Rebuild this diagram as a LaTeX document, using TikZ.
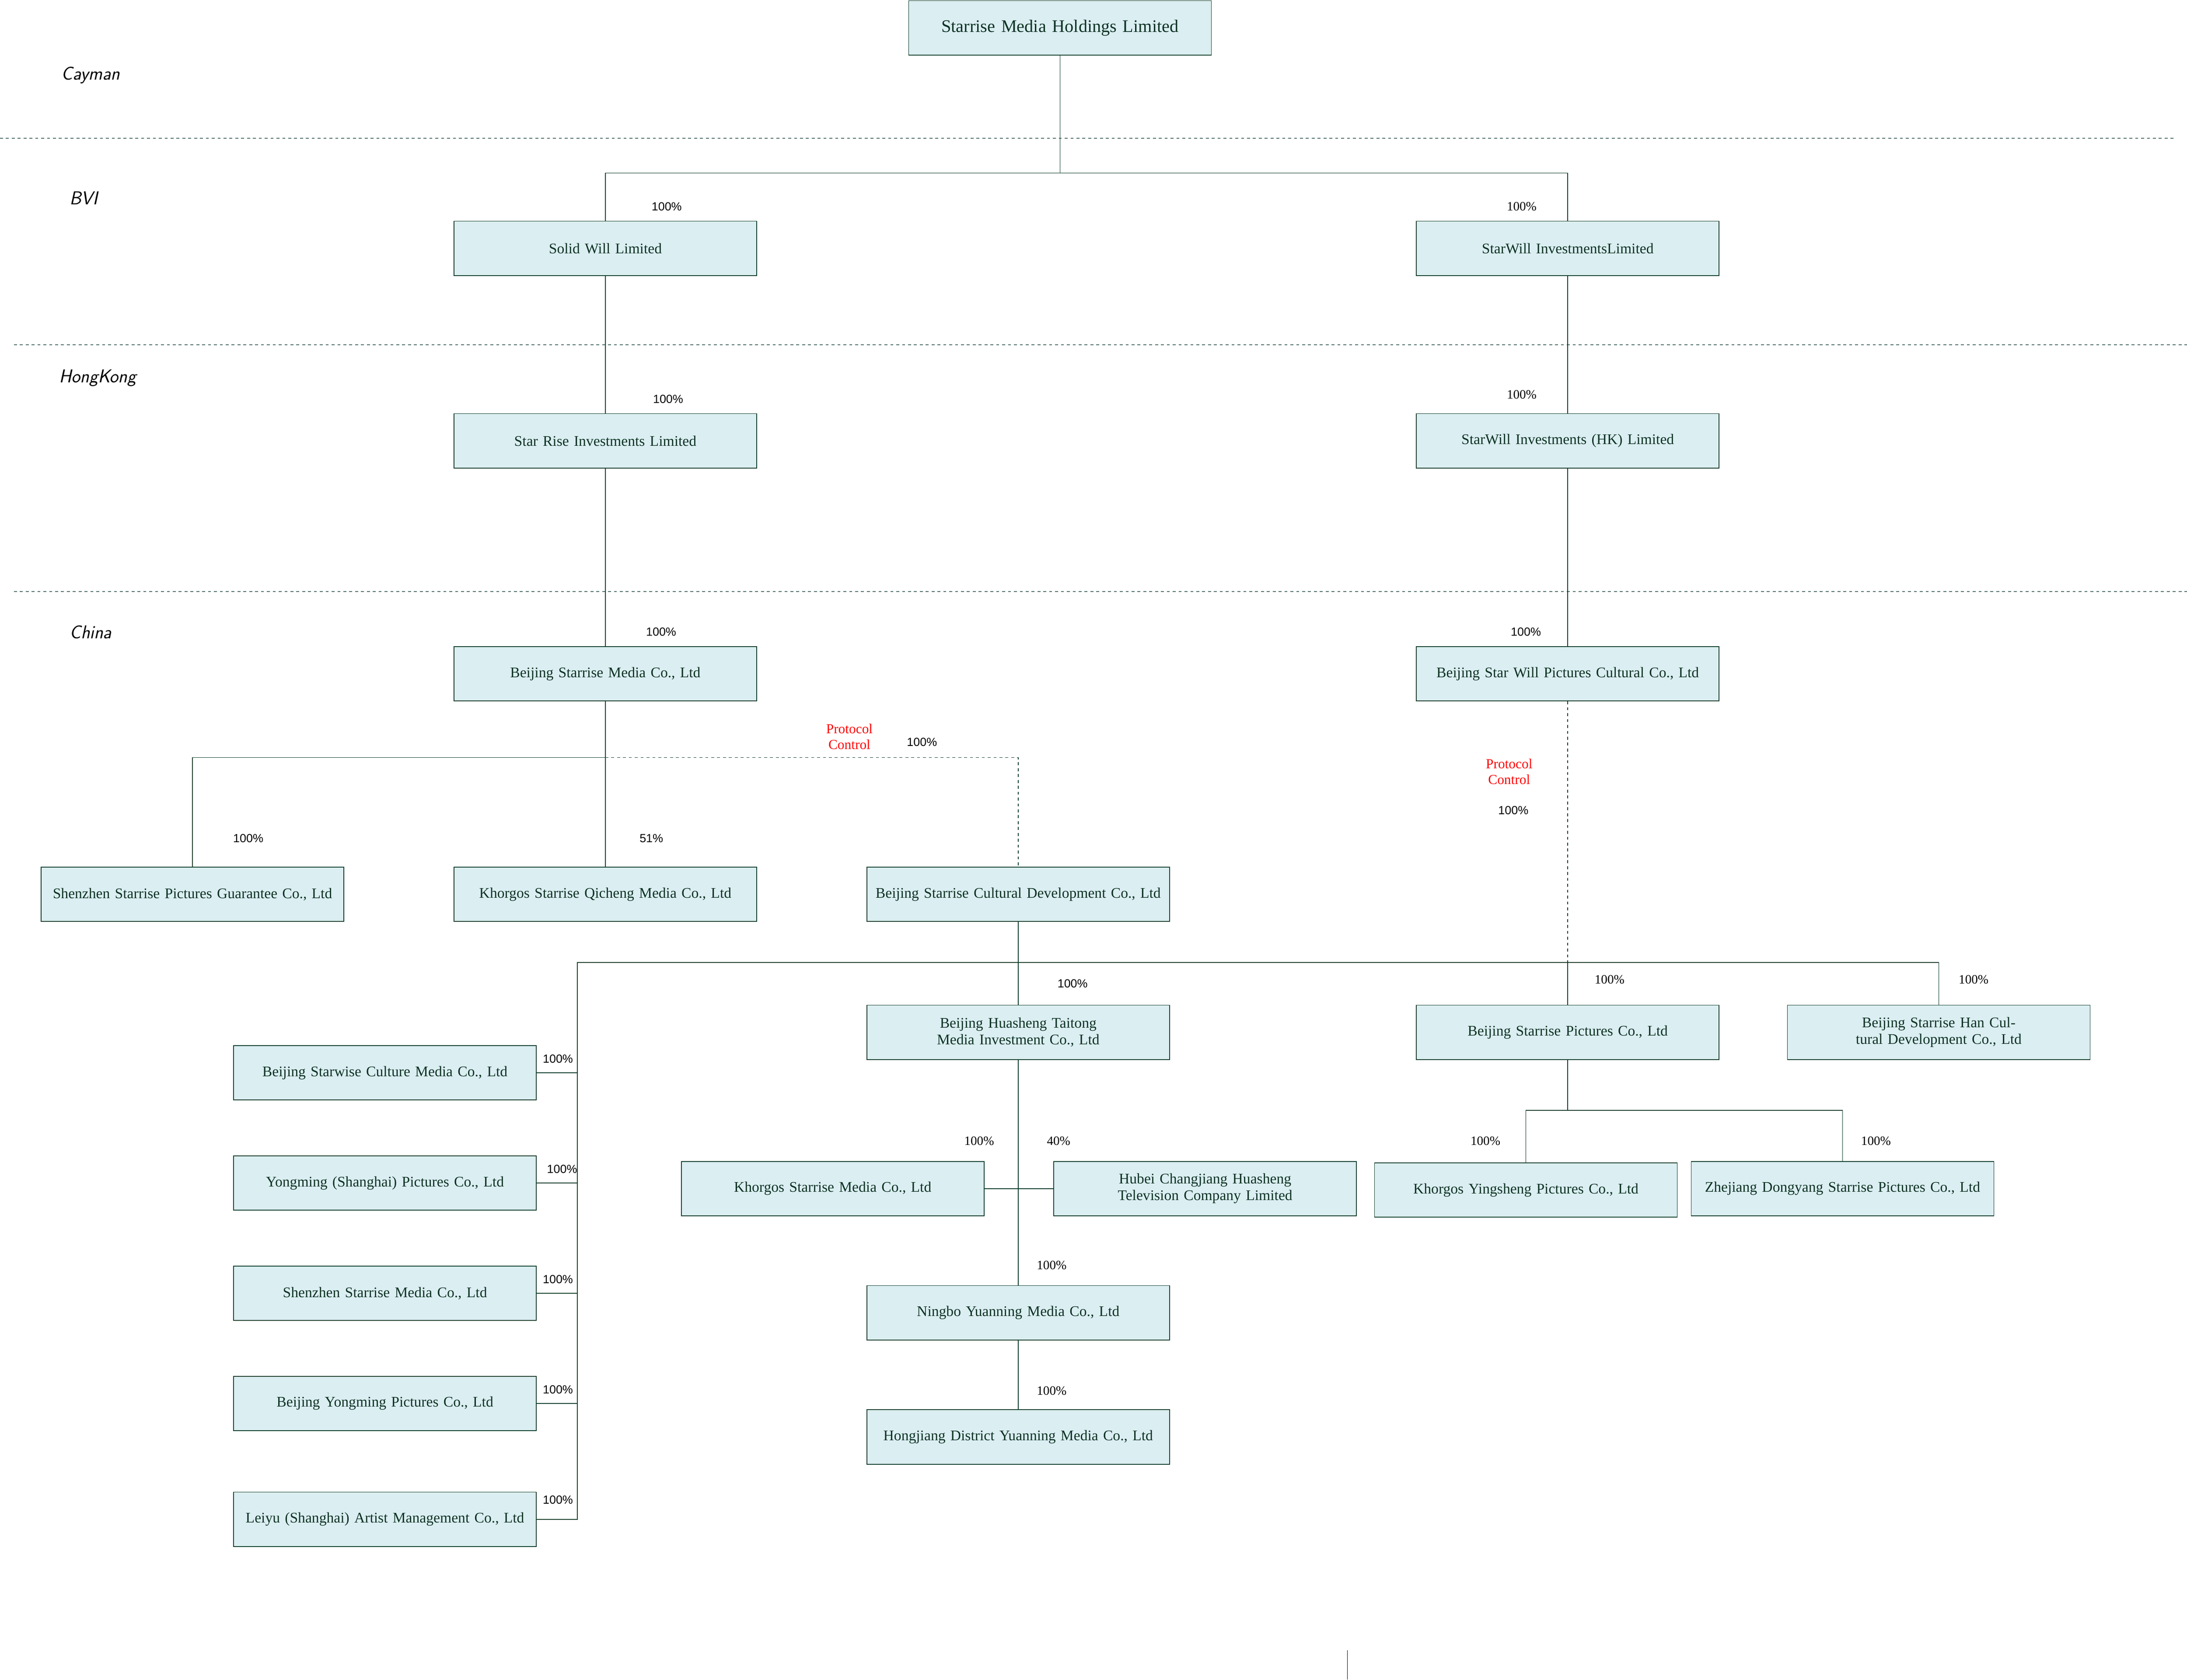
\documentclass[tikz,border=0pt]{standalone}
\usepackage{fontspec}
\setmainfont{Liberation Serif}
\newfontfamily\pctfont{Liberation Sans}
\usetikzlibrary{positioning}
\definecolor{boxfill}{HTML}{DBEEF2}
\definecolor{boxline}{HTML}{103F2C}
\definecolor{sepline}{HTML}{4F6F6A}
\begin{document}
\begin{tikzpicture}[x=0.05cm,y=-0.05cm,
  company/.style={draw=boxline, fill=boxfill, thick, minimum width=10.85cm, minimum height=1.95cm,
    text width=10.6cm, align=center, font=\fontsize{15}{17}\selectfont, text=boxline!80!black},
  link/.style={draw=boxline, thick},
  ctrl/.style={draw=boxline, thick, dashed},
  pct/.style={font=\fontsize{13}{15}\selectfont},
  pcts/.style={font=\pctfont\fontsize{12}{14}\selectfont},
  region/.style={font=\sffamily\itshape\fontsize{19}{21}\selectfont},
  proto/.style={text=red, align=center, font=\fontsize{14}{16}\selectfont},
  sep/.style={draw=sepline, dashed, thick}]
\useasboundingbox (0,0) rectangle (1568,1204);

% regions
\draw[sep] (0,99) -- (1560,99);
\draw[sep] (10,247) -- (1568,247);
\draw[sep] (10,424) -- (1568,424);
\node[region] at (65,54) {Cayman};
\node[region] at (60,142) {BVI};
\node[region] at (70,271) {HongKong};
\node[region] at (65,453) {China};

% companies
\node[company, font=\fontsize{18}{20}\selectfont] (holding) at (760,20) {Starrise Media Holdings Limited};
\node[company] (solid) at (434,178) {Solid Will Limited};
\node[company] (starwill) at (1124,178) {StarWill InvestmentsLimited};
\node[company] (starrise) at (434,316) {Star Rise Investments Limited};
\node[company] (starwillhk) at (1124,316) {StarWill Investments (HK) Limited};
\node[company] (bjmedia) at (434,483) {Beijing Starrise Media Co., Ltd};
\node[company] (bjstarwill) at (1124,483) {Beijing Star Will Pictures Cultural Co., Ltd};
\node[company] (szguar) at (138,641) {Shenzhen Starrise Pictures Guarantee Co., Ltd};
\node[company] (qicheng) at (434,641) {Khorgos Starrise Qicheng Media Co., Ltd};
\node[company] (culture) at (730,641) {Beijing Starrise Cultural Development Co., Ltd};
\node[company] (huasheng) at (730,740) {Beijing Huasheng Taitong Media Investment Co., Ltd};
\node[company] (pictures) at (1124,740) {Beijing Starrise Pictures Co., Ltd};
\node[company] (han) at (1390,740) {Beijing Starrise Han Cultural Development Co., Ltd};
\node[company] (starwise) at (276,769) {Beijing Starwise Culture Media Co., Ltd};
\node[company] (yongsh) at (276,848) {Yongming (Shanghai) Pictures Co., Ltd};
\node[company] (szmedia) at (276,927) {Shenzhen Starrise Media Co., Ltd};
\node[company] (yongbj) at (276,1006) {Beijing Yongming Pictures Co., Ltd};
\node[company] (leiyu) at (276,1089) {Leiyu (Shanghai) Artist Management Co., Ltd};
\node[company] (khmedia) at (597,852) {Khorgos Starrise Media Co., Ltd};
\node[company] (hubei) at (864,852) {Hubei Changjiang Huasheng Television Company Limited};
\node[company] (ningbo) at (730,941) {Ningbo Yuanning Media Co., Ltd};
\node[company] (hongjiang) at (730,1030) {Hongjiang District Yuanning Media Co., Ltd};
\node[company] (yingsheng) at (1094,853) {Khorgos Yingsheng Pictures Co., Ltd};
\node[company] (dongyang) at (1321,852) {Zhejiang Dongyang Starrise Pictures Co., Ltd};

% ownership lines
\coordinate (topbus) at (760,124);
\draw[link] (holding.south) -- (topbus) -| (solid.north);
\draw[link] (topbus) -| (starwill.north);
\draw[link] (solid) -- (starrise) -- (bjmedia);
\draw[link] (starwill) -- (starwillhk) -- (bjstarwill);
\coordinate (bjbus) at (434,543);
\draw[link] (bjmedia.south) -- (bjbus) -| (szguar.north);
\draw[link] (bjbus) -- (qicheng.north);
\draw[ctrl] (bjbus) -| (culture.north);
\coordinate (midbus) at (730,690);
\draw[ctrl] (bjstarwill.south) -- (1124,690);
\draw[link] (culture.south) -- (midbus) -| (han.north);
\draw[link] (midbus) -- (huasheng.north);
\draw[link] (1124,690) -- (pictures.north);
\draw[link] (midbus) -| (414,1089) -- (leiyu.east);
\foreach \n in {starwise,yongsh,szmedia,yongbj}
  \draw[link] (\n.east) -- (\n.east -| 414,0);
\draw[link] (huasheng.south) -- (ningbo.north);
\draw[link] (khmedia.east) -- (hubei.west);
\draw[link] (ningbo) -- (hongjiang);
\coordinate (picbus) at (1124,796);
\draw[link] (pictures.south) -- (picbus) -| (yingsheng.north);
\draw[link] (picbus) -| (dongyang.north);
\draw[thin] (966,1183) -- (966,1204);

% shares
\node[pcts] at (478,148) {100\%};
\node[pct] at (1091,148) {100\%};
\node[pcts] at (479,286) {100\%};
\node[pct] at (1091,283) {100\%};
\node[pcts] at (474,453) {100\%};
\node[pcts] at (1094,453) {100\%};
\node[pcts] at (661,532) {100\%};
\node[pcts] at (1085,581) {100\%};
\node[pcts] at (178,601) {100\%};
\node[pcts] at (467,601) {51\%};
\node[pcts] at (769,705) {100\%};
\node[pct] at (1154,702) {100\%};
\node[pct] at (1415,702) {100\%};
\node[pcts] at (400,759) {100\%};
\node[pcts] at (403,838) {100\%};
\node[pcts] at (400,917) {100\%};
\node[pcts] at (400,996) {100\%};
\node[pcts] at (400,1075) {100\%};
\node[pct] at (702,818) {100\%};
\node[pct] at (759,818) {40\%};
\node[pct] at (1065,818) {100\%};
\node[pct] at (1345,818) {100\%};
\node[pct] at (754,907) {100\%};
\node[pct] at (754,997) {100\%};
\node[proto] at (609,528) {Protocol\\Control};
\node[proto] at (1082,553) {Protocol\\Control};
\end{tikzpicture}
\end{document}
